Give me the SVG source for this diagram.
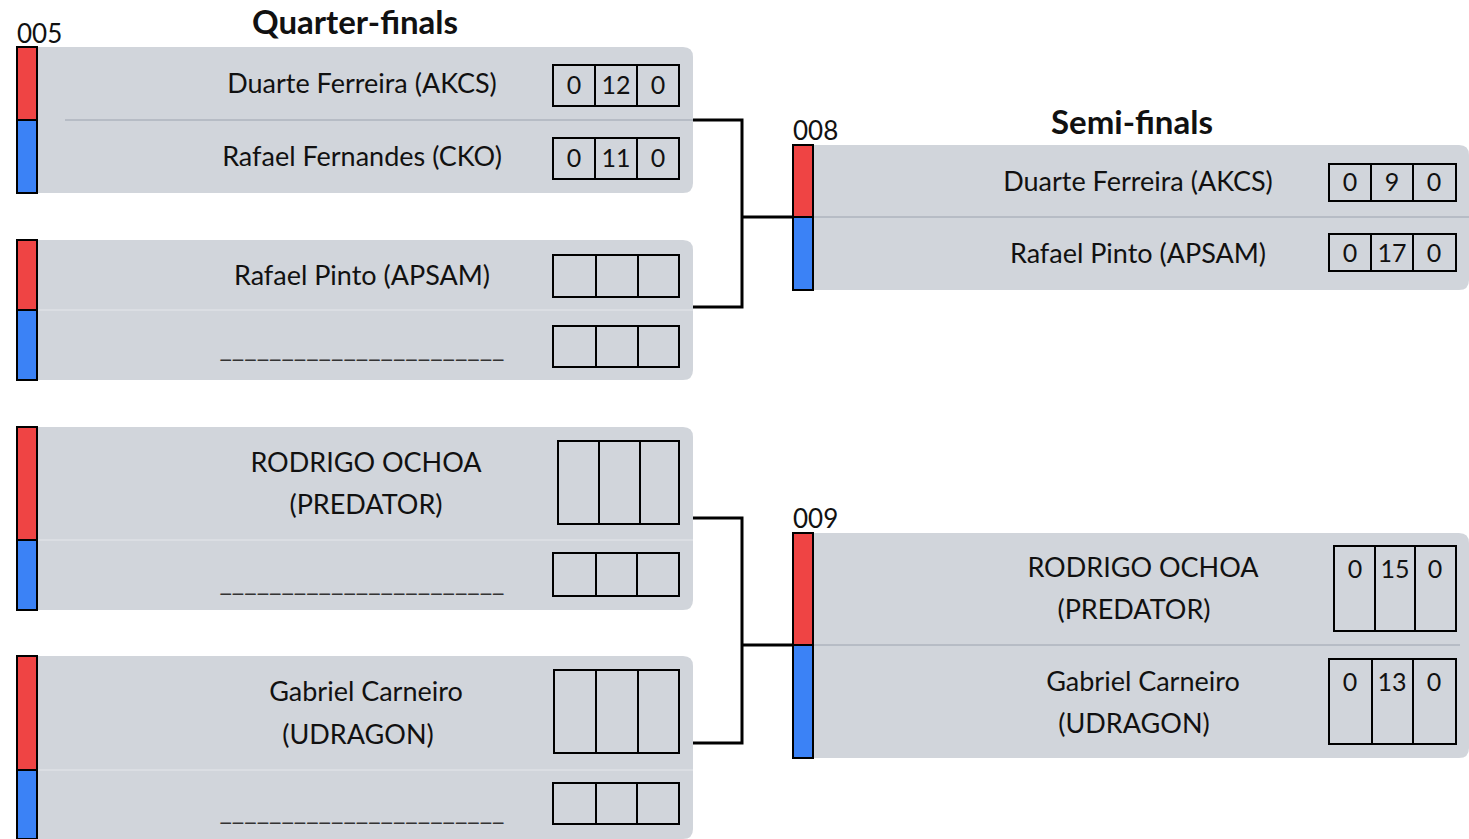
<svg xmlns="http://www.w3.org/2000/svg" width="1469" height="839" viewBox="0 0 1469 839">
<style>
.card{fill:#d1d5db}
.red{fill:#ef4444;stroke:#000;stroke-width:2}
.blue{fill:#3b82f6;stroke:#000;stroke-width:2}
.div{stroke:#9ca3af;stroke-width:1}
.divl{stroke:#e5e7eb;stroke-width:1}
.box{fill:none;stroke:#000;stroke-width:2}
.name{font-family:Lato,"Open Sans",sans-serif;font-size:27px;fill:#111;text-anchor:middle}
.blank{font-family:Lato,"Open Sans",sans-serif;font-size:27px;fill:#333;text-anchor:middle}
.sc{font-family:Lato,"Open Sans",sans-serif;font-size:25px;fill:#111;text-anchor:middle}
.id{font-family:Lato,"Open Sans",sans-serif;font-size:26px;fill:#111}
.title{font-family:Lato,"Open Sans",sans-serif;font-size:33px;font-weight:bold;fill:#111;text-anchor:middle}
.conn{fill:none;stroke:#000;stroke-width:3}
</style>
<rect width="1469" height="839" fill="#fff"/>
<text class="title" x="355" y="34">Quarter-finals</text>
<text class="title" x="1132" y="134">Semi-finals</text>

<g id="connectors">
<path class="conn" d="M693,120 H742 V307 H693"/>
<path class="conn" d="M742,217 H793"/>
<path class="conn" d="M693,518 H742 V743 H693"/>
<path class="conn" d="M742,645 H793"/>
</g>

<g id="m005">
<text class="id" x="17" y="43">005</text>
<path class="card" d="M17,47 H683 Q693,47 693,57 V183 Q693,193 683,193 H17 Z"/>
<line class="div" x1="65" y1="120" x2="693" y2="120"/>
<rect class="red" x="17" y="47" width="20" height="73"/>
<rect class="blue" x="17" y="120" width="20" height="73"/>
<text class="name" x="362" y="93">Duarte Ferreira (AKCS)</text>
<text class="name" x="362" y="166">Rafael Fernandes (CKO)</text>
<rect class="box" x="553" y="65" width="126" height="41"/>
<line class="box" x1="595" y1="65" x2="595" y2="106"/>
<line class="box" x1="637" y1="65" x2="637" y2="106"/>
<text class="sc" x="574" y="94">0</text><text class="sc" x="616" y="94">12</text><text class="sc" x="658" y="94">0</text>
<rect class="box" x="553" y="138" width="126" height="41"/>
<line class="box" x1="595" y1="138" x2="595" y2="179"/>
<line class="box" x1="637" y1="138" x2="637" y2="179"/>
<text class="sc" x="574" y="167">0</text><text class="sc" x="616" y="167">11</text><text class="sc" x="658" y="167">0</text>
</g>

<g id="m006">
<path class="card" d="M17,240 H683 Q693,240 693,250 V370 Q693,380 683,380 H17 Z"/>
<line class="divl" x1="37" y1="310" x2="693" y2="310"/>
<rect class="red" x="17" y="240" width="20" height="70"/>
<rect class="blue" x="17" y="310" width="20" height="70"/>
<text class="name" x="362" y="285">Rafael Pinto (APSAM)</text>
<text class="blank" x="362" y="357">_______________________</text>
<rect class="box" x="553" y="255" width="126" height="42"/>
<line class="box" x1="596" y1="255" x2="596" y2="297"/>
<line class="box" x1="638" y1="255" x2="638" y2="297"/>
<rect class="box" x="553" y="326" width="126" height="41"/>
<line class="box" x1="596" y1="326" x2="596" y2="367"/>
<line class="box" x1="638" y1="326" x2="638" y2="367"/>
</g>

<g id="m007">
<path class="card" d="M17,427 H683 Q693,427 693,437 V600 Q693,610 683,610 H17 Z"/>
<line class="divl" x1="37" y1="540" x2="693" y2="540"/>
<rect class="red" x="17" y="427" width="20" height="113"/>
<rect class="blue" x="17" y="540" width="20" height="70"/>
<text class="name" x="366" y="472">RODRIGO OCHOA</text>
<text class="name" x="366" y="514">(PREDATOR)</text>
<text class="blank" x="362" y="591">_______________________</text>
<rect class="box" x="558" y="441" width="121" height="83"/>
<line class="box" x1="599" y1="441" x2="599" y2="524"/>
<line class="box" x1="640" y1="441" x2="640" y2="524"/>
<rect class="box" x="553" y="553" width="126" height="43"/>
<line class="box" x1="596" y1="553" x2="596" y2="596"/>
<line class="box" x1="637" y1="553" x2="637" y2="596"/>
</g>

<g id="m00x">
<path class="card" d="M17,656 H683 Q693,656 693,666 V829 Q693,839 683,839 H17 Z"/>
<line class="divl" x1="37" y1="770" x2="693" y2="770"/>
<rect class="red" x="17" y="656" width="20" height="114"/>
<rect class="blue" x="17" y="770" width="20" height="69"/>
<text class="name" x="366" y="701">Gabriel Carneiro</text>
<text class="name" x="358" y="744">(UDRAGON)</text>
<text class="blank" x="362" y="820">_______________________</text>
<rect class="box" x="554" y="670" width="125" height="83"/>
<line class="box" x1="596" y1="670" x2="596" y2="753"/>
<line class="box" x1="638" y1="670" x2="638" y2="753"/>
<rect class="box" x="553" y="783" width="126" height="41"/>
<line class="box" x1="596" y1="783" x2="596" y2="824"/>
<line class="box" x1="637" y1="783" x2="637" y2="824"/>
</g>

<g id="m008">
<text class="id" x="793" y="140">008</text>
<path class="card" d="M793,145 H1459 Q1469,145 1469,155 V280 Q1469,290 1459,290 H793 Z"/>
<line class="div" x1="813" y1="217" x2="1469" y2="217"/>
<rect class="red" x="793" y="145" width="20" height="72"/>
<rect class="blue" x="793" y="217" width="20" height="73"/>
<text class="name" x="1138" y="191">Duarte Ferreira (AKCS)</text>
<text class="name" x="1138" y="263">Rafael Pinto (APSAM)</text>
<rect class="box" x="1329" y="164" width="127" height="37"/>
<line class="box" x1="1371" y1="164" x2="1371" y2="201"/>
<line class="box" x1="1413" y1="164" x2="1413" y2="201"/>
<text class="sc" x="1350" y="191">0</text><text class="sc" x="1392" y="191">9</text><text class="sc" x="1434" y="191">0</text>
<rect class="box" x="1329" y="234" width="127" height="37"/>
<line class="box" x1="1371" y1="234" x2="1371" y2="271"/>
<line class="box" x1="1413" y1="234" x2="1413" y2="271"/>
<text class="sc" x="1350" y="262">0</text><text class="sc" x="1392" y="262">17</text><text class="sc" x="1434" y="262">0</text>
</g>

<g id="m009">
<text class="id" x="793" y="528">009</text>
<path class="card" d="M793,533 H1459 Q1469,533 1469,543 V748 Q1469,758 1459,758 H793 Z"/>
<line class="div" x1="813" y1="645" x2="1460" y2="645"/>
<rect class="red" x="793" y="533" width="20" height="112"/>
<rect class="blue" x="793" y="645" width="20" height="113"/>
<text class="name" x="1143" y="577">RODRIGO OCHOA</text>
<text class="name" x="1134" y="619">(PREDATOR)</text>
<text class="name" x="1143" y="691">Gabriel Carneiro</text>
<text class="name" x="1134" y="733">(UDRAGON)</text>
<rect class="box" x="1334" y="546" width="122" height="85"/>
<line class="box" x1="1375" y1="546" x2="1375" y2="631"/>
<line class="box" x1="1415" y1="546" x2="1415" y2="631"/>
<text class="sc" x="1355" y="578">0</text><text class="sc" x="1395" y="578">15</text><text class="sc" x="1435" y="578">0</text>
<rect class="box" x="1329" y="659" width="127" height="85"/>
<line class="box" x1="1372" y1="659" x2="1372" y2="744"/>
<line class="box" x1="1413" y1="659" x2="1413" y2="744"/>
<text class="sc" x="1350" y="691">0</text><text class="sc" x="1392" y="691">13</text><text class="sc" x="1434" y="691">0</text>
</g>
</svg>
